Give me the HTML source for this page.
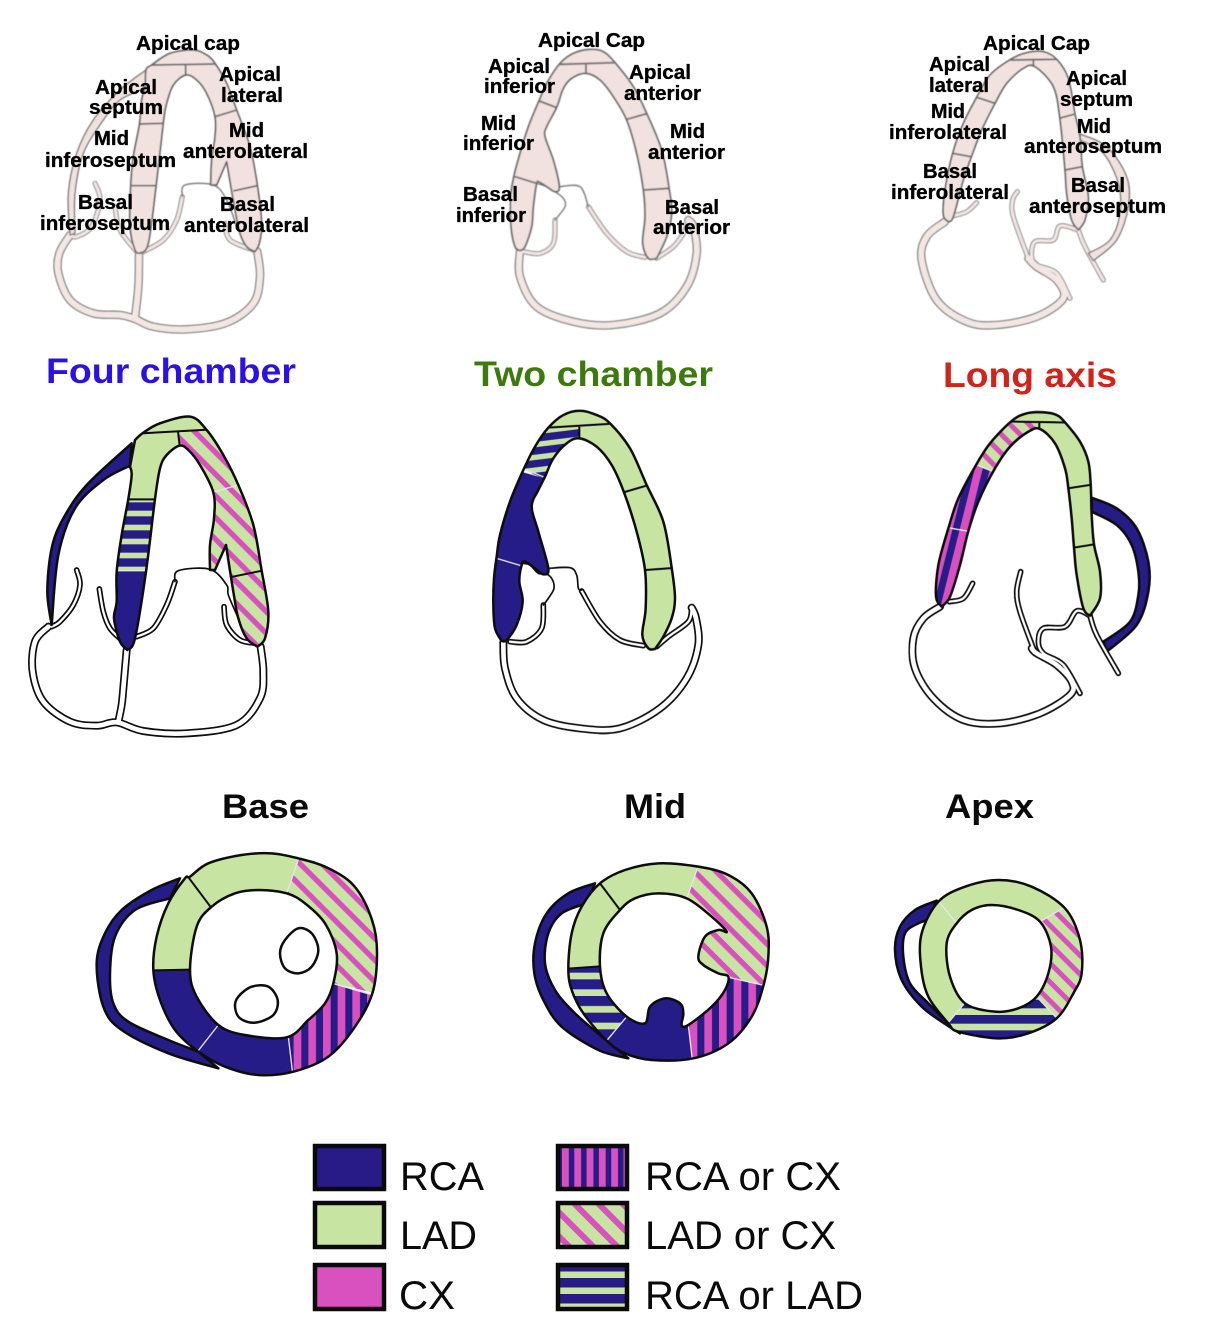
<!DOCTYPE html>
<html lang="en">
<head>
<meta charset="utf-8">
<title>Coronary territories of the left ventricle</title>
<style>
html,body{margin:0;padding:0;background:#fff;}
svg{display:block;}
text{font-family:"Liberation Sans",sans-serif;}
.lbl{font-weight:700;font-size:20px;fill:#000;stroke:#000;stroke-width:.35;}
.ttl{font-weight:700;font-size:35px;}
.sub{font-weight:700;font-size:34px;fill:#0a0a0a;}
.leg{font-size:40px;fill:#0a0a0a;}
.mo{fill:none;stroke:#0a0a0a;stroke-width:7.5;stroke-linejoin:round;}
.dv{fill:none;stroke:#0a0a0a;stroke-width:6;}
.dw{fill:none;stroke:#e6e6ee;stroke-width:4;}
.s{stroke:#0a0a0a;stroke-width:7.5;stroke-linejoin:round;}
.pkf{fill:#f1e2df;stroke:#666;stroke-width:5;stroke-linejoin:round;}
.pdv{fill:none;stroke:#666;stroke-width:5;}
.pk{fill:#f1e2df;stroke:#777;stroke-width:4;stroke-linejoin:round;}
.ln{fill:none;stroke:#0a0a0a;stroke-width:5;stroke-linecap:round;stroke-linejoin:round;}
.gl{fill:none;stroke:#777;stroke-width:4;stroke-linecap:round;stroke-linejoin:round;}
.wo{fill:none;stroke:#0a0a0a;stroke-width:24;stroke-linejoin:round;stroke-linecap:round;}
.wi{fill:none;stroke:#fff;stroke-width:14;stroke-linejoin:round;stroke-linecap:round;}
.to{fill:none;stroke:#0a0a0a;stroke-width:17;stroke-linejoin:round;stroke-linecap:round;}
.ti{fill:none;stroke:#fff;stroke-width:7;stroke-linejoin:round;stroke-linecap:round;}
.pwo{fill:none;stroke:#777;stroke-width:25;stroke-linejoin:round;stroke-linecap:round;}
.pwi{fill:none;stroke:#f3e7e4;stroke-width:18;stroke-linejoin:round;stroke-linecap:round;}
.pto{fill:none;stroke:#888;stroke-width:15;stroke-linejoin:round;stroke-linecap:round;}
.pti{fill:none;stroke:#f3e7e4;stroke-width:9;stroke-linejoin:round;stroke-linecap:round;}
.nv{fill:#281a87;}
.gr{fill:#c8e4a2;}
</style>
</head>
<body>
<svg xmlns="http://www.w3.org/2000/svg" width="1207" height="1332" viewBox="0 0 1207 1332">
<defs>
<filter id="soft" x="-5%" y="-5%" width="110%" height="110%"><feGaussianBlur stdDeviation="0.55"/></filter>
<filter id="soft2" x="-5%" y="-5%" width="110%" height="110%"><feGaussianBlur stdDeviation="0.35"/></filter>
<pattern id="lc" width="46" height="46" patternUnits="userSpaceOnUse" patternTransform="rotate(45)"><rect width="46" height="46" fill="#c8e4a2"/><rect width="46" height="16" fill="#d950bf"/></pattern>
<pattern id="lcs" width="40" height="40" patternUnits="userSpaceOnUse" patternTransform="rotate(45)"><rect width="40" height="40" fill="#c8e4a2"/><rect width="40" height="15" fill="#d950bf"/></pattern>
<pattern id="rc" width="44" height="44" patternUnits="userSpaceOnUse" patternTransform="translate(10 0)"><rect width="44" height="44" fill="#281a87"/><rect width="23" height="44" fill="#d950bf"/></pattern>
<pattern id="rct" width="44" height="44" patternUnits="userSpaceOnUse" patternTransform="rotate(14)"><rect width="44" height="44" fill="#281a87"/><rect width="23" height="44" fill="#d950bf"/></pattern>
<pattern id="rl" width="42" height="42" patternUnits="userSpaceOnUse" patternTransform="translate(0 292)"><rect width="42" height="42" fill="#c8e4a2"/><rect width="42" height="25" fill="#281a87"/></pattern>
<pattern id="rlt" width="38" height="38" patternUnits="userSpaceOnUse" patternTransform="rotate(-7) translate(0 70)"><rect width="38" height="38" fill="#c8e4a2"/><rect width="38" height="22" fill="#281a87"/></pattern>
<pattern id="rlm" width="50" height="50" patternUnits="userSpaceOnUse" patternTransform="translate(0 388)"><rect width="50" height="50" fill="#c8e4a2"/><rect width="50" height="30" fill="#281a87"/></pattern>
<pattern id="rla" width="46" height="46" patternUnits="userSpaceOnUse" patternTransform="translate(0 435)"><rect width="46" height="46" fill="#c8e4a2"/><rect width="46" height="26" fill="#281a87"/></pattern>
<pattern id="lglc" width="17" height="17" patternUnits="userSpaceOnUse" patternTransform="rotate(45)"><rect width="17" height="17" fill="#c8e4a2"/><rect width="17" height="6" fill="#d950bf"/></pattern>
<pattern id="lgrc" x="562" width="12.3" height="12" patternUnits="userSpaceOnUse"><rect width="12.3" height="12" fill="#281a87"/><rect width="6.8" height="12" fill="#d950bf"/></pattern>
<pattern id="lgrl" y="1278" width="16" height="16" patternUnits="userSpaceOnUse"><rect width="16" height="16" fill="#c8e4a2"/><rect width="16" height="9.5" fill="#281a87"/></pattern>

<clipPath id="c4c"><path id="p4c" data-p="322,735! 300,710 282,640 290,590 290,500 305,390 325,282 335,210 330,185! 345,105! 370,83 420,55 510,35 560,75 610,150 655,240 700,360 725,497 745,620 735,700 712,725! 680,700 655,640 640,560 618,420! 585,495! 570,495! 570,420 582,340 580,262 540,180 505,135 478,122 440,150 420,190 405,282 378,500 345,700"/></clipPath>
<clipPath id="c2c"><path id="p2c" data-p="65,708! 45,670 40,600 42,520 50,455 60,390 90,290 130,195 165,125 205,68 250,30 300,17 350,30 390,55 450,130 500,240 550,350 575,488 585,580 575,640 550,695 525,732! 505,730 487,690 497,610 495,495 470,380 432,262 395,180 350,125 298,100 260,115 220,160 195,215 175,255 155,305 175,380 205,490 190,508 165,490 135,470 125,480 118,530 128,590 110,660 80,705"/></clipPath>
<clipPath id="cla"><path id="pla" data-p="125,605! 108,575 115,480 145,370 175,280 228,180 270,115 335,48 380,25 430,22 470,30 495,52 540,110 565,170 572,238 575,330 582,418 600,500 600,580 570,632! 550,610 530,510 522,428 515,340 505,250 495,190 465,115 420,72 385,80 330,125 282,195 235,290 205,378 180,480 150,575"/></clipPath>
<clipPath id="cba"><path id="pba" clip-rule="evenodd" data-p="315,110 370,70 470,45 560,40 640,55 720,80 800,130 850,210 875,310 865,450 810,560 730,650 625,695 520,705 420,680 340,635 270,570 225,480 205,390 215,290 250,190 300,115 | 380,200 450,160 520,150 605,160 660,190 720,250 755,340 745,430 720,490 670,540 605,592 480,585 400,555 335,470 315,390 335,260"/></clipPath>
<clipPath id="cmi"><path id="pmi" clip-rule="evenodd" data-p="225,100 300,60 400,40 520,50 610,75 680,130 725,230 730,320 715,408 680,500 610,580 505,625 380,630 300,610 245,572 175,490 140,420 130,355 140,250 170,170 | 285,180 330,145 400,130 485,145 560,200 605,245 580,240 540,260 520,320 535,345 580,370 610,380 600,420 560,470 490,525 470,525 475,490 465,460 420,445 375,470 360,520 305,500 245,430 225,350 235,250"/></clipPath>
<clipPath id="cap"><path id="pap" clip-rule="evenodd" data-p="160,95 240,50 340,30 440,50 540,115 585,210 590,310 565,370 515,445 430,490 340,505 220,485 190,460 130,380 108,290 110,190 | 215,160 260,120 320,105 400,120 465,155 498,230 490,310 455,380 400,415 330,425 240,400 195,320 185,220"/></clipPath>
</defs>

<g filter="url(#soft)">
<!-- four chamber reference -->
<g transform="translate(20 20) scale(.33333)">
<path class="pto" id="a1" data-o="1" data-p="225,490 240,540 215,620 170,650 150,645"/>
<path class="pto" id="a2" data-o="1" data-p="285,560 300,630 350,695"/>
<path class="pto" id="a3" data-o="1" data-p="487,530 470,600 430,660 370,695"/>
<path class="pto" id="a4" data-o="1" data-p="615,610 630,660 700,690"/>
<path class="pwo" id="a5" data-o="1" data-p="150,645 118,700 115,760 150,840 220,880 300,885 345,897 400,920 500,928 620,908 700,850 720,770 712,695"/>
<path class="pwo" id="a6" data-o="1" data-p="357,705 355,800 345,893"/>
<g>
<path class="pti" data-from="a1"/>
<path class="pti" data-from="a2"/>
<path class="pti" data-from="a3"/>
<path class="pti" data-from="a4"/>
<path class="pwi" data-from="a5"/>
<path class="pwi" data-from="a6"/>
</g>
<path class="pk" data-p="378,150! 300,210 220,300 170,400 145,520 150,645! 165,640! 165,520 190,400 250,300 300,240 375,205!"/>
<path class="gl" data-o="1" data-p="487,530 495,495 580,495 620,540 650,620"/>
<path class="pkf" data-p="360,700! 345,690 330,620 332,500 340,410 358,315 365,240 375,200 378,150 395,135 450,100 520,90 560,105 585,130 620,190 650,270 690,380 712,495 725,610 718,670 705,695! 680,680 660,640 645,570 620,425! 590,495! 572,495! 575,420 585,350 585,290 560,220 530,180 497,165 460,195 440,250 430,308 408,500 385,670"/>
<g>
<path class="pdv" d="M395 135L585 132"/>
<path class="pdv" d="M497 135V165"/>
<path class="pdv" d="M358 312L432 310"/>
<path class="pdv" d="M332 497H408"/>
<path class="pdv" d="M585 290L650 270"/>
<path class="pdv" d="M640 513L712 497"/>
</g>
</g>
<!-- two chamber reference -->
<g transform="translate(440 20) scale(.33333)">
<path class="pto" id="b1" data-o="1" data-p="345,600 340,670 300,700 250,695"/>
<path class="pto" id="b2" data-o="1" data-p="445,560 500,640 560,695 615,712"/>
<path class="pwo" id="b3" data-o="1" data-p="240,692 240,770 290,860 400,905 520,915 660,880 740,800 770,700 760,620 745,600"/>
<path class="pto" id="b4" data-o="1" data-p="650,715 700,680 730,640 745,600"/>
<g>
<path class="pti" data-from="b1"/>
<path class="pti" data-from="b2"/>
<path class="pwi" data-from="b3"/>
<path class="pti" data-from="b4"/>
</g>
<path class="gl" data-o="1" data-p="358,500 420,500 445,560"/>
<path class="gl" data-o="1" data-p="290,490 320,500 345,515 370,535 375,560 345,600"/>
<path class="pkf" data-p="240,692! 225,680 213,620 212,530 222,467 240,400 265,320 298,240 320,190 360,130 400,100 450,88 490,95 525,128 580,200 620,280 665,390 687,503 695,580 680,650 650,715! 625,715 608,670 615,590 610,510 590,400 560,300 520,230 480,180 438,160 395,175 370,205 350,262 320,320 315,350 340,420 358,500 345,515 320,500 300,488 290,490 280,560 275,620 255,680"/>
<g>
<path class="pdv" d="M358 133L527 128"/>
<path class="pdv" d="M438 133V160"/>
<path class="pdv" d="M298 243L350 263"/>
<path class="pdv" d="M222 469L290 490"/>
<path class="pdv" d="M560 298L620 281"/>
<path class="pdv" d="M610 510L687 505"/>
</g>
</g>
<!-- long axis reference -->
<g transform="translate(880 20) scale(.33333)">
<path class="pto" id="c1" data-o="1" data-p="445,715 400,590 398,540 412,515"/>
<path class="pto" id="c2" data-o="1" data-p="210,590 260,575 290,548"/>
<path class="pwo" id="c3" data-o="1" data-p="195,605 140,650 125,720 170,840 260,905 350,915 470,890 550,835 530,780 470,740 445,715"/>
<path class="pto" id="c4" data-o="1" data-p="595,630 540,618 520,660 465,665 455,710 470,735 530,760 570,835"/>
<path class="pto" id="c5" data-o="1" data-p="595,630 615,680 670,780"/>
<g>
<path class="pti" data-from="c1"/>
<path class="pti" data-from="c2"/>
<path class="pwi" data-from="c3"/>
<path class="pti" data-from="c4"/>
<path class="pti" data-from="c5"/>
</g>
<path class="pk" data-p="600,342! 680,380 740,470 745,560 710,660 640,722! 625,700! 690,660 720,580 715,490 670,400 600,360!"/>
<path class="pkf" data-p="205,605! 190,585 195,510 218,400 250,310 290,232 330,165 392,118 440,98 490,95 530,118 565,175 585,282 600,350 607,440 625,530 615,600 595,630! 575,600 560,520 555,450 540,298 520,200 465,140 430,145 380,190 345,250 305,330 275,408 250,480 220,590"/>
<g>
<path class="pdv" d="M392 120L530 118"/>
<path class="pdv" d="M460 120V140"/>
<path class="pdv" d="M290 232L345 250"/>
<path class="pdv" d="M218 400L273 410"/>
<path class="pdv" d="M538 295L585 282"/>
<path class="pdv" d="M555 450L607 440"/>
</g>
</g>
</g>

<g filter="url(#soft2)">
<text class="lbl" x="136" y="50" textLength="104" lengthAdjust="spacingAndGlyphs">Apical cap</text>
<text class="lbl" x="95" y="94" textLength="62" lengthAdjust="spacingAndGlyphs">Apical</text>
<text class="lbl" x="89" y="114" textLength="74" lengthAdjust="spacingAndGlyphs">septum</text>
<text class="lbl" x="219" y="81" textLength="62" lengthAdjust="spacingAndGlyphs">Apical</text>
<text class="lbl" x="221" y="102" textLength="62" lengthAdjust="spacingAndGlyphs">lateral</text>
<text class="lbl" x="229" y="137" textLength="35" lengthAdjust="spacingAndGlyphs">Mid</text>
<text class="lbl" x="183" y="158" textLength="125" lengthAdjust="spacingAndGlyphs">anterolateral</text>
<text class="lbl" x="94" y="145" textLength="35" lengthAdjust="spacingAndGlyphs">Mid</text>
<text class="lbl" x="45" y="167" textLength="131" lengthAdjust="spacingAndGlyphs">inferoseptum</text>
<text class="lbl" x="78" y="209" textLength="55" lengthAdjust="spacingAndGlyphs">Basal</text>
<text class="lbl" x="40" y="230" textLength="130" lengthAdjust="spacingAndGlyphs">inferoseptum</text>
<text class="lbl" x="220" y="211" textLength="55" lengthAdjust="spacingAndGlyphs">Basal</text>
<text class="lbl" x="184" y="232" textLength="125" lengthAdjust="spacingAndGlyphs">anterolateral</text>

<text class="lbl" x="538" y="47" textLength="107" lengthAdjust="spacingAndGlyphs">Apical Cap</text>
<text class="lbl" x="488" y="73" textLength="62" lengthAdjust="spacingAndGlyphs">Apical</text>
<text class="lbl" x="484" y="93" textLength="71" lengthAdjust="spacingAndGlyphs">inferior</text>
<text class="lbl" x="629" y="79" textLength="62" lengthAdjust="spacingAndGlyphs">Apical</text>
<text class="lbl" x="624" y="100" textLength="77" lengthAdjust="spacingAndGlyphs">anterior</text>
<text class="lbl" x="481" y="130" textLength="35" lengthAdjust="spacingAndGlyphs">Mid</text>
<text class="lbl" x="463" y="150" textLength="71" lengthAdjust="spacingAndGlyphs">inferior</text>
<text class="lbl" x="670" y="138" textLength="35" lengthAdjust="spacingAndGlyphs">Mid</text>
<text class="lbl" x="648" y="159" textLength="77" lengthAdjust="spacingAndGlyphs">anterior</text>
<text class="lbl" x="463" y="201" textLength="55" lengthAdjust="spacingAndGlyphs">Basal</text>
<text class="lbl" x="456" y="222" textLength="70" lengthAdjust="spacingAndGlyphs">inferior</text>
<text class="lbl" x="665" y="214" textLength="54" lengthAdjust="spacingAndGlyphs">Basal</text>
<text class="lbl" x="653" y="234" textLength="77" lengthAdjust="spacingAndGlyphs">anterior</text>

<text class="lbl" x="983" y="50" textLength="107" lengthAdjust="spacingAndGlyphs">Apical Cap</text>
<text class="lbl" x="929" y="71" textLength="61" lengthAdjust="spacingAndGlyphs">Apical</text>
<text class="lbl" x="929" y="92" textLength="60" lengthAdjust="spacingAndGlyphs">lateral</text>
<text class="lbl" x="931" y="118" textLength="34" lengthAdjust="spacingAndGlyphs">Mid</text>
<text class="lbl" x="889" y="139" textLength="118" lengthAdjust="spacingAndGlyphs">inferolateral</text>
<text class="lbl" x="923" y="178" textLength="54" lengthAdjust="spacingAndGlyphs">Basal</text>
<text class="lbl" x="891" y="199" textLength="118" lengthAdjust="spacingAndGlyphs">inferolateral</text>
<text class="lbl" x="1066" y="85" textLength="61" lengthAdjust="spacingAndGlyphs">Apical</text>
<text class="lbl" x="1060" y="106" textLength="73" lengthAdjust="spacingAndGlyphs">septum</text>
<text class="lbl" x="1077" y="133" textLength="34" lengthAdjust="spacingAndGlyphs">Mid</text>
<text class="lbl" x="1024" y="153" textLength="138" lengthAdjust="spacingAndGlyphs">anteroseptum</text>
<text class="lbl" x="1071" y="192" textLength="54" lengthAdjust="spacingAndGlyphs">Basal</text>
<text class="lbl" x="1029" y="213" textLength="137" lengthAdjust="spacingAndGlyphs">anteroseptum</text>
</g>

<g>
<text class="ttl" x="46" y="383" fill="#2a12e6" textLength="250" lengthAdjust="spacingAndGlyphs">Four chamber</text>
<text class="ttl" x="474" y="386" fill="#3d7a0e" textLength="239" lengthAdjust="spacingAndGlyphs">Two chamber</text>
<text class="ttl" x="943" y="387" fill="#d0241b" textLength="174" lengthAdjust="spacingAndGlyphs">Long axis</text>
</g>

<g filter="url(#soft2)">
<!-- coloured four chamber -->
<g transform="translate(20 405) scale(.33333)">
<path class="to" id="d1" data-o="1" data-p="170,495 180,540 160,600 120,650 95,665"/>
<path class="to" id="d2" data-o="1" data-p="238,552 250,620 270,670 305,705"/>
<path class="to" id="d3" data-o="1" data-p="465,530 440,600 400,670 350,695"/>
<path class="to" id="d4" data-o="1" data-p="612,605 620,660 660,705 710,715"/>
<path class="wo" id="d5" data-o="1" data-p="85,665 45,710 38,800 70,890 150,950 230,962 290,952 370,978 500,985 650,960 720,880 730,800 722,725"/>
<path class="wo" id="d6" data-o="1" data-p="320,735 310,850 305,900 295,950"/>
<g>
<path class="ti" data-from="d1"/>
<path class="ti" data-from="d2"/>
<path class="ti" data-from="d3"/>
<path class="ti" data-from="d4"/>
<path class="wi" data-from="d5"/>
<path class="wi" data-from="d6"/>
</g>
<path class="ln" data-o="1" data-p="465,530 475,497 570,493 620,540 625,570 655,640"/>
<path class="nv s" data-p="335,115! 330,182! 250,225 165,310 115,450 95,660! 82,560 95,430 130,340 200,240"/>
<g clip-path="url(#c4c)">
<polygon class="gr" points="330,87 600,72 600,0 330,0"/>
<polygon class="gr" points="300,88 474,80 480,130 440,282 300,282"/>
<polygon fill="url(#rl)" points="280,282 420,282 420,497 280,497"/>
<polygon class="nv" points="260,497 420,497 420,760 260,760"/>
<polygon fill="url(#lc)" points="476,80 620,72 700,227 575,263 480,130"/>
<polygon fill="url(#lc)" points="560,265 700,227 770,488 600,523 550,523"/>
<polygon fill="url(#lc)" points="600,523 770,488 780,760 600,760"/>
<path class="dv" d="M330 87L600 72"/>
<path class="dv" d="M474 80L480 130"/>
<path class="dv" d="M280 283H420"/>
<path class="dw" d="M280 497H420"/>
<path class="dw" d="M575 263L700 227"/>
<path class="dv" d="M600 523L770 488"/>
</g>
<path class="mo" data-from="p4c"/>
</g>

<!-- coloured two chamber -->
<g transform="translate(480 405) scale(.33333)">
<path class="to" id="e1" data-o="1" data-p="190,600 185,670 140,710 90,710"/>
<path class="to" id="e2" data-o="1" data-p="305,558 360,650 420,705 490,722"/>
<path class="wo" id="e3" data-o="1" data-p="70,712 75,790 110,880 190,945 300,970 420,970 540,910 620,820 655,720 648,640 635,608"/>
<path class="to" id="e4" data-o="1" data-p="530,725 565,695 625,650 635,610"/>
<g>
<path class="ti" data-from="e1"/>
<path class="ti" data-from="e2"/>
<path class="wi" data-from="e3"/>
<path class="ti" data-from="e4"/>
</g>
<path class="ln" data-o="1" data-p="205,490 270,488 290,510 295,550 305,555"/>
<path class="ln" data-o="1" data-p="130,475 150,480 175,505 195,505 215,520 222,550 205,580 190,600"/>
<g clip-path="url(#c2c)">
<polygon class="gr" points="150,70 390,55 450,55 450,0 150,0"/>
<polygon fill="url(#rlt)" points="120,70 298,65 298,110 200,225 110,185"/>
<polygon class="nv" points="0,165 200,222 260,300 260,540 130,540 130,484 0,445"/>
<polygon class="nv" points="0,445 130,484 140,760 0,760"/>
<polygon class="gr" points="298,65 440,45 520,236 420,265 298,110"/>
<polygon class="gr" points="420,265 520,236 620,486 470,497"/>
<polygon class="gr" points="470,497 620,486 620,760 470,760"/>
<path class="dv" d="M150 71L450 53"/>
<path class="dv" d="M298 65V110"/>
<path class="dw" d="M110 182L205 222"/>
<path class="dw" d="M0 445L130 484"/>
<path class="dv" d="M420 265L520 236"/>
<path class="dv" d="M470 497L620 486"/>
</g>
<path class="mo" data-from="p2c"/>
</g>

<!-- coloured long axis -->
<g transform="translate(900 405) scale(.33333)">
<path class="nv s" data-p="575,278! 650,310 710,370 745,470 745,560 710,660 620,740! 610,710! 690,650 715,570 715,500 695,420 650,360 575,320!"/>
<path class="to" id="f1" data-o="1" data-p="400,730 360,620 350,560 362,500"/>
<path class="to" id="f2" data-o="1" data-p="148,590 190,580 218,535"/>
<path class="wo" id="f3" data-o="1" data-p="120,605 70,640 40,700 45,790 100,880 190,945 300,955 420,925 510,870 515,830 470,780 410,745 395,730"/>
<path class="to" id="f4" data-o="1" data-p="570,632 530,618 495,665 430,670 415,710 430,745 490,780 540,865"/>
<path class="to" id="f5" data-o="1" data-p="570,632 590,690 655,805"/>
<g>
<path class="ti" data-from="f1"/>
<path class="ti" data-from="f2"/>
<path class="wi" data-from="f3"/>
<path class="ti" data-from="f4"/>
<path class="ti" data-from="f5"/>
</g>
<g clip-path="url(#cla)">
<polygon class="gr" points="300,49 520,53 520,0 300,0"/>
<polygon class="gr" points="418,50 520,50 620,232 490,252 418,90"/>
<polygon class="gr" points="490,252 620,232 620,412 490,433"/>
<polygon class="gr" points="490,433 620,412 640,660 490,660"/>
<polygon fill="url(#lcs)" points="418,50 300,49 180,160 310,212 418,90"/>
<polygon fill="url(#rct)" points="180,160 310,212 240,385 100,360"/>
<polygon fill="url(#rct)" points="100,360 240,385 200,660 60,660"/>
<path class="dv" d="M300 49L520 53"/>
<path class="dv" d="M418 50V90"/>
<path class="dv" d="M490 252L620 232"/>
<path class="dv" d="M490 433L620 412"/>
<path class="dw" d="M180 160L310 212"/>
<path class="dw" d="M100 360L240 385"/>
</g>
<path class="mo" data-from="pla"/>
</g>

<!-- base short axis -->
<g transform="translate(85 840) scale(.33333)">
<path class="nv s" data-p="285,115! 200,150 110,210 60,280 35,370 55,500 110,570 250,640 400,685! 340,635! 250,600 130,545 85,490 75,400 90,290 150,210 255,175!"/>
<g clip-path="url(#cba)">
<polygon class="gr" points="380,205 290,85 270,0 660,0 640,55 605,160"/>
<polygon fill="url(#lc)" points="605,160 650,30 950,30 950,478 745,430"/>
<polygon fill="url(#rc)" points="745,430 950,490 900,760 630,760 610,590"/>
<polygon class="nv" points="610,590 630,760 300,760 300,680 400,555"/>
<polygon class="nv" points="400,555 310,670 150,600 150,392 315,390"/>
<polygon class="gr" points="315,388 150,392 150,100 290,85 380,205"/>
<path class="dv" d="M380 205L290 85"/>
<path class="dw" d="M605 160L650 30"/>
<path class="dw" d="M745 431L950 490"/>
<path class="dw" d="M610 590L630 760"/>
<path class="dw" d="M400 555L310 670"/>
<path class="dv" d="M315 389L150 392"/>
</g>
<path class="mo" data-from="pba"/>
<path fill="#fff" class="s" data-p="600,300 640,265 680,280 700,330 680,380 640,400 600,385 585,340"/>
<path fill="#fff" class="s" data-p="460,470 500,440 550,440 578,480 565,525 510,548 465,535 450,500"/>
</g>

<!-- mid short axis -->
<g transform="translate(525 850) scale(.33333)">
<path class="nv s" data-p="210,100! 130,130 65,190 30,280 28,370 55,450 110,530 220,600 310,625! 245,572! 150,490 90,420 60,340 70,250 110,190 185,160!"/>
<g clip-path="url(#cmi)">
<polygon class="gr" points="285,180 210,80 220,0 540,0 520,50 485,145"/>
<polygon fill="url(#lc)" points="485,145 530,20 800,20 800,425 610,382 450,300"/>
<polygon fill="url(#rc)" points="610,382 800,425 780,700 510,700 490,525 520,400"/>
<polygon class="nv" points="490,525 510,700 200,700 240,580 305,500 300,400 480,400"/>
<polygon fill="url(#rlm)" points="305,500 240,578 100,500 100,358 225,348"/>
<polygon class="gr" points="225,348 100,358 100,100 210,80 285,180"/>
<path class="dv" d="M285 180L210 80"/>
<path class="dw" d="M485 145L530 20"/>
<path class="dw" d="M610 382L800 425"/>
<path class="dw" d="M490 525L510 700"/>
<path class="dw" d="M305 500L240 578"/>
<path class="dv" d="M225 349L100 358"/>
</g>
<path class="mo" data-from="pmi"/>
</g>

<!-- apex short axis -->
<g transform="translate(885 870) scale(.33333)">
<path class="nv s" data-p="155,92! 90,120 45,170 30,240 50,330 110,410 185,465 225,490! 190,460 130,400 75,340 55,260 60,190 100,160 130,150!"/>
<g clip-path="url(#cap)">
<polygon class="gr" points="215,160 145,75 160,0 600,0 550,105 465,155"/>
<polygon fill="url(#lcs)" points="465,155 550,105 700,100 700,470 525,455 455,380"/>
<polygon fill="url(#rla)" points="455,380 525,455 450,600 180,600 180,470 240,398 350,300"/>
<polygon class="gr" points="240,398 180,470 50,400 50,50 145,75 215,160"/>
<path class="dw" d="M215 160L145 75"/>
<path class="dw" d="M465 155L550 105"/>
<path class="dw" d="M455 380L525 455"/>
<path class="dw" d="M240 398L180 470"/>
</g>
<path class="mo" data-from="pap"/>
</g>
</g>

<g>
<text class="sub" x="222" y="818" textLength="87" lengthAdjust="spacingAndGlyphs">Base</text>
<text class="sub" x="624" y="818" textLength="62" lengthAdjust="spacingAndGlyphs">Mid</text>
<text class="sub" x="945" y="818" textLength="89" lengthAdjust="spacingAndGlyphs">Apex</text>
</g>

<!-- legend -->
<g>
<g>
<rect x="315" y="1146" width="69" height="43" fill="#281a87" stroke="#0a0a0a" stroke-width="4.5"/>
<text class="leg" x="400" y="1190" textLength="84" lengthAdjust="spacingAndGlyphs">RCA</text>
</g>
<g>
<rect x="315" y="1203" width="69" height="44" fill="#c8e4a2" stroke="#0a0a0a" stroke-width="4.5"/>
<text class="leg" x="400" y="1249" textLength="77" lengthAdjust="spacingAndGlyphs">LAD</text>
</g>
<g>
<rect x="315" y="1265" width="69" height="44" fill="#d950bf" stroke="#0a0a0a" stroke-width="4.5"/>
<text class="leg" x="399" y="1309" textLength="56" lengthAdjust="spacingAndGlyphs">CX</text>
</g>
<g>
<rect x="558" y="1146" width="69" height="43" fill="url(#lgrc)" stroke="#0a0a0a" stroke-width="4.5"/>
<text class="leg" x="645" y="1190" textLength="196" lengthAdjust="spacingAndGlyphs">RCA or CX</text>
</g>
<g>
<rect x="558" y="1203" width="69" height="44" fill="url(#lglc)" stroke="#0a0a0a" stroke-width="4.5"/>
<text class="leg" x="645" y="1249" textLength="191" lengthAdjust="spacingAndGlyphs">LAD or CX</text>
</g>
<g>
<rect x="558" y="1265" width="69" height="44" fill="url(#lgrl)" stroke="#0a0a0a" stroke-width="4.5"/>
<text class="leg" x="645" y="1309" textLength="218" lengthAdjust="spacingAndGlyphs">RCA or LAD</text>
</g>
</g>
</svg>
<script>
function fmt(n){return n.toFixed(1);}
function cseg(p0,p1,p2,p3){
  return ' C'+fmt(p1.x+(p2.x-p0.x)/6)+' '+fmt(p1.y+(p2.y-p0.y)/6)+' '+fmt(p2.x-(p3.x-p1.x)/6)+' '+fmt(p2.y-(p3.y-p1.y)/6)+' '+fmt(p2.x)+' '+fmt(p2.y);
}
function runPath(r){
  var s='';
  for(var i=0;i<r.length-1;i++){
    s+=cseg(r[i-1]||r[i],r[i],r[i+1],r[i+2]||r[i+1]);
  }
  return s;
}
function build(str,open){
  var pts=str.trim().split(/\s+/).map(function(t){
    var c=t.slice(-1)==='!';
    var a=t.replace('!','').split(',');
    return {x:+a[0],y:+a[1],c:c};
  });
  var d='M'+fmt(pts[0].x)+' '+fmt(pts[0].y);
  if(open){return d+runPath(pts);}
  var hasCorner=pts.some(function(p){return p.c;});
  if(!hasCorner){
    var n=pts.length;
    for(var i=0;i<n;i++){
      d+=cseg(pts[(i-1+n)%n],pts[i],pts[(i+1)%n],pts[(i+2)%n]);
    }
    return d+'Z';
  }
  var seq=pts.concat([{x:pts[0].x,y:pts[0].y,c:true}]);
  var run=[seq[0]];
  for(var j=1;j<seq.length;j++){
    run.push(seq[j]);
    if(seq[j].c){d+=runPath(run);run=[seq[j]];}
  }
  return d+'Z';
}
document.querySelectorAll('[data-p]').forEach(function(el){
  var open=el.hasAttribute('data-o');
  var parts=el.getAttribute('data-p').split('|');
  el.setAttribute('d',parts.map(function(s){return build(s,open);}).join(' '));
});
document.querySelectorAll('[data-from]').forEach(function(el){
  el.setAttribute('d',document.getElementById(el.getAttribute('data-from')).getAttribute('d'));
});
</script>
</body>
</html>
